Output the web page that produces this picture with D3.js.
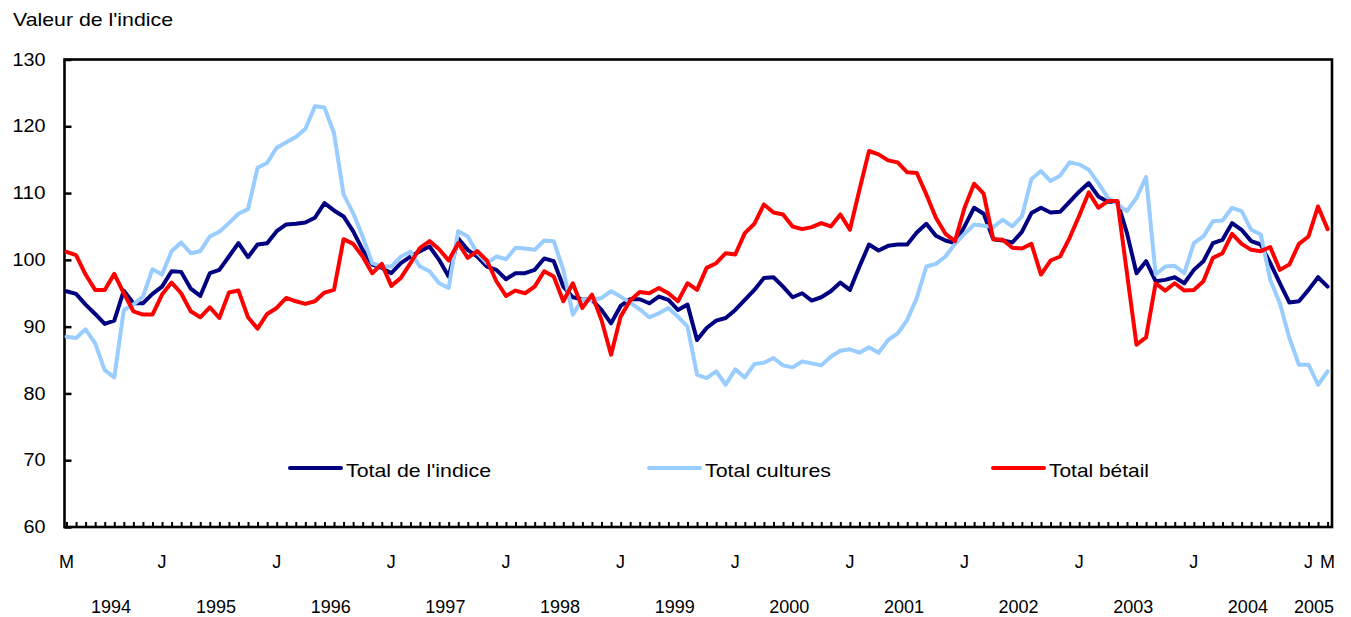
<!DOCTYPE html>
<html>
<head>
<meta charset="utf-8">
<script src="https://cdn.jsdelivr.net/npm/d3@7"></script>
<style>
  body { margin: 0; background: #fff; }
  svg { display: block; font-family: "Liberation Sans", Arial, sans-serif; }
</style>
</head>
<body>
<svg id="chart" width="1351" height="617"></svg>
<script>
// ---- Data (monthly, March 1994 to March 2005) ----
const startMonth = new Date(1994, 2, 1);
const endMonth = new Date(2005, 2, 1);
const months = d3.timeMonth.range(startMonth, d3.timeMonth.offset(endMonth, 1)).map(d3.timeFormat("%Y-%m"));

const totalIndice = [
  95.3, 94.9, 93.3, 91.9, 90.4, 90.9, 95.4, 93.5, 93.5, 94.9,
  96.0, 98.3, 98.2, 95.7, 94.6, 98.0, 98.5, 100.5, 102.5, 100.4,
  102.3, 102.5, 104.3, 105.3, 105.4, 105.6, 106.3, 108.5, 107.4, 106.5,
  104.3, 101.5, 99.3, 98.8, 98.0, 99.5, 100.5, 101.3, 102.0, 100.0,
  97.5, 103.2, 101.5, 100.5, 99.0, 98.5, 97.1, 98.0, 98.0, 98.5,
  100.2, 99.8, 96.0, 94.4, 94.1, 94.0, 92.5, 90.5, 93.1, 94.1,
  94.1, 93.5, 94.5, 94.0, 92.5, 93.3, 88.0, 89.8, 90.9, 91.3,
  92.5, 94.0, 95.5, 97.3, 97.4, 96.0, 94.4, 95.0, 93.9, 94.4,
  95.3, 96.6, 95.5, 99.0, 102.3, 101.4, 102.1, 102.3, 102.3, 104.1,
  105.4, 103.6, 102.9, 102.5, 105.0, 107.8, 106.9, 103.1, 102.9, 102.6,
  104.2, 107.0, 107.8, 107.1, 107.2, 108.7, 110.2, 111.5, 109.5, 108.7,
  108.7, 104.0, 98.0, 99.8, 96.8, 97.0, 97.4, 96.5, 98.5, 99.8,
  102.5, 103.0, 105.5, 104.5, 102.8, 102.3, 99.5, 96.5, 93.6, 93.8,
  95.5, 97.4, 96.0
];

const totalCultures = [
  88.5, 88.3, 89.6, 87.5, 83.5, 82.4, 92.5, 93.3, 94.5, 98.6,
  97.8, 101.3, 102.6, 101.0, 101.3, 103.5, 104.2, 105.5, 106.9, 107.6,
  113.8, 114.5, 116.8, 117.6, 118.4, 119.6, 123.0, 122.8, 119.0, 109.8,
  107.0, 103.5, 99.5, 99.0, 99.0, 100.5, 101.2, 99.0, 98.3, 96.5,
  95.8, 104.3, 103.5, 101.0, 99.5, 100.5, 100.1, 101.8, 101.7, 101.5,
  102.9, 102.8, 98.5, 91.8, 94.1, 94.0, 94.3, 95.3, 94.5, 93.6,
  92.6, 91.4, 92.0, 92.8, 91.5, 90.0, 82.8, 82.3, 83.3, 81.3,
  83.6, 82.4, 84.4, 84.6, 85.3, 84.2, 83.9, 84.8, 84.5, 84.2,
  85.5, 86.4, 86.6, 86.1, 86.9, 86.1, 88.0, 89.0, 91.0, 94.3,
  99.0, 99.4, 100.5, 102.4, 103.9, 105.3, 105.1, 104.9, 106.0, 105.0,
  106.5, 112.1, 113.3, 111.8, 112.6, 114.6, 114.3, 113.5, 111.5, 109.3,
  108.3, 107.3, 109.3, 112.4, 97.8, 99.0, 99.1, 98.0, 102.5, 103.5,
  105.8, 105.9, 107.8, 107.3, 104.5, 103.8, 97.0, 93.5, 88.3, 84.3,
  84.3, 81.3, 83.3
];

const totalBetail = [
  101.2, 100.7, 97.8, 95.5, 95.5, 97.9, 95.0, 92.3, 91.8, 91.8,
  94.8, 96.6, 95.0, 92.3, 91.4, 92.9, 91.3, 95.1, 95.4, 91.4,
  89.7, 91.9, 92.8, 94.3, 93.8, 93.4, 93.8, 95.1, 95.5, 103.1,
  102.4, 100.5, 98.0, 99.4, 96.1, 97.3, 99.5, 101.8, 102.8, 101.6,
  99.9, 102.5, 100.3, 101.3, 99.9, 96.8, 94.6, 95.4, 95.0, 96.0,
  98.3, 97.5, 93.8, 96.5, 92.8, 94.8, 91.0, 85.8, 91.5, 93.9,
  95.2, 95.0, 95.8, 95.0, 93.8, 96.5, 95.5, 98.8, 99.5, 101.0,
  100.8, 104.0, 105.4, 108.3, 107.1, 106.8, 105.0, 104.6, 104.9, 105.5,
  105.0, 106.8, 104.5, 110.5, 116.3, 115.8, 114.9, 114.6, 113.1, 113.0,
  109.8, 106.3, 103.9, 102.8, 107.8, 111.4, 109.9, 103.1, 103.0, 101.8,
  101.7, 102.4, 97.8, 99.9, 100.5, 103.3, 106.6, 110.1, 107.8, 108.8,
  108.8, 98.0, 87.3, 88.4, 96.5, 95.4, 96.5, 95.4, 95.5, 96.8,
  100.3, 101.0, 103.9, 102.4, 101.5, 101.3, 101.9, 98.5, 99.3, 102.4,
  103.5, 108.0, 104.6
];

const seriesNames = ["Total de l'indice", "Total cultures", "Total bétail"];
const seriesColors = ["#000080", "#99CCFF", "#FF0000"];

const yTicks = [60, 70, 80, 90, 100, 110, 120, 130];
const monthLabelMonths = ["1994-03", "1995-01", "1996-01", "1997-01", "1998-01", "1999-01", "2000-01", "2001-01", "2002-01", "2003-01", "2004-01", "2005-01", "2005-03"];
const monthLabelTexts = ["M", "J", "J", "J", "J", "J", "J", "J", "J", "J", "J", "J", "M"];
const yearLabels = ["1994", "1995", "1996", "1997", "1998", "1999", "2000", "2001", "2002", "2003", "2004", "2005"];

// ---- Layout ----
const svg = d3.select("#chart");
const plot = { left: 64.5, right: 1332, top: 59.5, bottom: 527 };

const x = d3.scalePoint().domain(months).range([66.5, 1327.6]).padding(0);
const y = d3.scaleLinear().domain([60, 130]).range([plot.bottom, plot.top]);

// Title
svg.append("text")
  .attr("x", 13).attr("y", 25.5)
  .style("font-size", "18.5px")
  .attr("textLength", 160).attr("lengthAdjust", "spacingAndGlyphs")
  .attr("fill", "#000")
  .text("Valeur de l'indice");

// Y axis
const yAxis = svg.append("g")
  .attr("transform", `translate(${plot.left},0)`)
  .call(d3.axisLeft(y).tickValues(yTicks).tickSize(-7).tickPadding(19).tickFormat(d3.format("d")));
yAxis.select(".domain").remove();
yAxis.selectAll(".tick line").attr("stroke", "#000").attr("stroke-width", 2.5);
yAxis.selectAll(".tick text")
  .attr("fill", "#000")
  .style("font-size", "17.5px")
  .style("font-family", "'Liberation Sans', Arial, sans-serif")
  .attr("textLength", (d) => String(d).length * 11)
  .attr("lengthAdjust", "spacingAndGlyphs");

// X axis month ticks
const xAxis = svg.append("g")
  .attr("transform", `translate(0,${plot.bottom})`)
  .call(d3.axisBottom(x).tickValues(months).tickSize(-5).tickFormat(""));
xAxis.select(".domain").remove();
xAxis.selectAll(".tick line").attr("stroke", "#000").attr("stroke-width", 2);

// Frame
svg.append("rect")
  .attr("x", plot.left).attr("y", plot.top)
  .attr("width", plot.right - plot.left).attr("height", plot.bottom - plot.top)
  .attr("fill", "none").attr("stroke", "#000").attr("stroke-width", 2.6);

// Month labels
svg.append("g").selectAll("text")
  .data(monthLabelMonths)
  .join("text")
  .attr("x", (d) => x(d))
  .attr("y", 568)
  .attr("text-anchor", "middle")
  .style("font-size", "18px")
  .attr("fill", "#000")
  .text((d, i) => monthLabelTexts[i]);

// Year labels, centred on each year's months
svg.append("g").selectAll("text")
  .data(yearLabels)
  .join("text")
  .attr("x", (yr) => {
    const ms = months.filter((m) => m.startsWith(yr));
    return (x(ms[0]) + x(ms[ms.length - 1])) / 2 + (yr === "2005" ? -4 : 1.5);
  })
  .attr("y", 613)
  .attr("text-anchor", "middle")
  .style("font-size", "18px")
  .attr("fill", "#000")
  .text((d) => d);

// Lines
const allSeries = [totalIndice, totalCultures, totalBetail];
const line = d3.line().x((d, i) => x(months[i])).y((d) => y(d));
svg.append("g").selectAll("path")
  .data(allSeries)
  .join("path")
  .attr("d", line)
  .attr("fill", "none")
  .attr("stroke", (d, i) => seriesColors[i])
  .attr("stroke-width", 4)
  .attr("stroke-linejoin", "round")
  .attr("stroke-linecap", "round");

// Legend
const legendX = [290, 649, 993];
const legendTextLen = [145, 126, 100];
const legend = svg.append("g");
seriesNames.forEach((name, i) => {
  legend.append("line")
    .attr("x1", legendX[i]).attr("x2", legendX[i] + 51)
    .attr("y1", 468).attr("y2", 468)
    .attr("stroke", seriesColors[i]).attr("stroke-width", 4)
    .attr("stroke-linecap", "round");
  legend.append("text")
    .attr("x", legendX[i] + 56).attr("y", 476.5)
    .style("font-size", "18.5px")
    .attr("textLength", legendTextLen[i]).attr("lengthAdjust", "spacingAndGlyphs")
    .attr("fill", "#000")
    .text(name);
});
</script>
</body>
</html>
